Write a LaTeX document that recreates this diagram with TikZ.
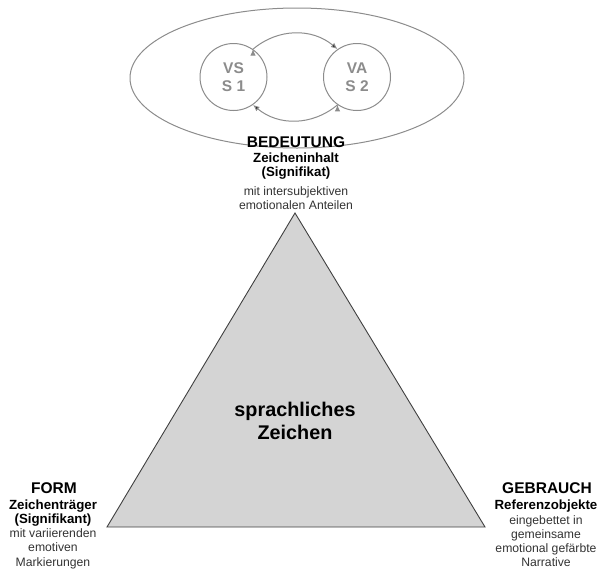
\documentclass[tikz,border=0pt]{standalone}
\usepackage{fontspec}
\setmainfont{Liberation Sans}
\usetikzlibrary{arrows.meta, shapes.geometric}

\tikzset{
  rolle/.style={font=\bfseries\fontsize{15.5}{16}\selectfont, anchor=base},
  begriff/.style={font=\bfseries\fontsize{13.3}{13.5}\selectfont, align=center, anchor=base},
  zusatz/.style={font=\fontsize{12.2}{14.5}\selectfont, text=black!80, align=center, anchor=base},
  person/.style={shape=circle, draw=black!45, line width=1pt, minimum size=67pt, inner sep=0pt,
    font=\bfseries\fontsize{15.5}{18}\selectfont, text=black!45, align=center}
}

\begin{document}
\begin{tikzpicture}[x=1pt, y=-1pt]
		\useasboundingbox (0,0) rectangle (602,571);
		
		% Bedeutung: Ellipse mit den beiden Sprechern
		\node[shape=ellipse, draw=black!45, line width=1pt, minimum width=334pt, minimum height=140pt] (E) at (297,78) {};
		\node[person] (VS) at (233.5,77) {VS\\S 1};
		\node[person] (VA) at (357,77) {VA\\S 2};
		\path[-{Latex[length=6.5pt,width=5.5pt]}, draw=black!45, line width=1pt] (VS.55) edge[bend left=40] (VA.125);
		\path[-{Latex[length=6.5pt,width=5.5pt]}, draw=black!45, line width=1pt] (VA.235) edge[bend left=40] (VS.305);
		
		% Dreieck
		\coordinate (T) at (295,213);
		\coordinate (L) at (107,527);
		\coordinate (R) at (485,527);
		\draw[fill=black!17, draw=black!75, line width=0.9pt] (T) -- (L) -- (R) -- cycle;
		\node[font=\bfseries\fontsize{19.8}{23}\selectfont, align=center, anchor=base] (Z) at (295,439) {sprachliches\\Zeichen};
		
		% Beschriftungen
		\node[rolle] (B1) at (296,147.5) {BEDEUTUNG};
		\node[begriff] (B2) at (296,176) {Zeicheninhalt\\(Signifikat)};
		\node[zusatz, font=\fontsize{12.2}{14}\selectfont] (B3) at (296,209) {mit intersubjektiven\\emotionalen Anteilen};
		
		\node[rolle] (F1) at (54,493) {FORM};
		\node[begriff] (F2) at (53,523) {Zeichenträger\\(Signifikant)};
		\node[zusatz] (F3) at (53,566) {mit variierenden\\emotiven\\Markierungen};
		
		\node[rolle] (G1) at (547,493) {GEBRAUCH};
		\node[begriff] (G2) at (546,509) {Referenzobjekte};
		\node[zusatz, font=\fontsize{12.2}{14}\selectfont] (G3) at (546,566) {eingebettet in\\gemeinsame\\emotional gefärbte\\Narrative};
		
	\end{tikzpicture}
\end{document}
